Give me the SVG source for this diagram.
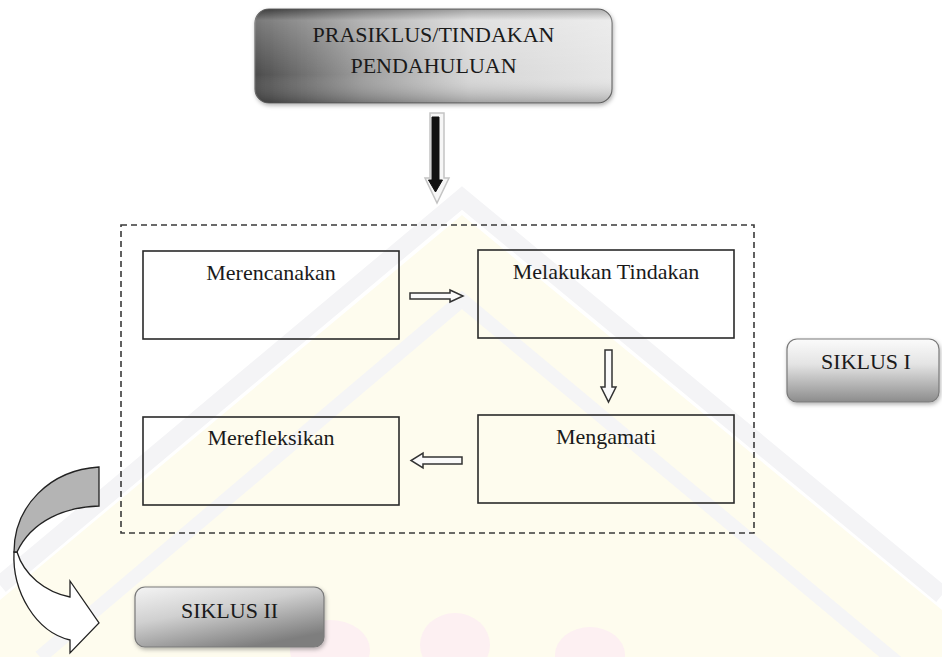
<svg xmlns="http://www.w3.org/2000/svg" width="942" height="657" viewBox="0 0 942 657">
<defs>
<style>
.t{font-family:"Liberation Serif","Times New Roman","DejaVu Serif",serif;font-size:22px;fill:#1a1a1a;text-anchor:middle}
.box{fill:none;stroke:#2a2a2a;stroke-width:1.6}
.ha{fill:#fafafa;stroke:#333;stroke-width:1.5;stroke-linejoin:miter}
</style>
<linearGradient id="gTop" x1="0" y1="0" x2="1" y2="0">
<stop offset="0" stop-color="#4c4c4c"/>
<stop offset="0.3" stop-color="#9c9c9c"/>
<stop offset="0.6" stop-color="#d6d6d6"/>
<stop offset="1" stop-color="#e6e6e6"/>
</linearGradient>
<linearGradient id="gTopV" x1="0" y1="0" x2="0" y2="1">
<stop offset="0" stop-color="#000" stop-opacity="0.25"/>
<stop offset="0.12" stop-color="#fff" stop-opacity="0.25"/>
<stop offset="0.7" stop-color="#fff" stop-opacity="0"/>
<stop offset="1" stop-color="#000" stop-opacity="0.25"/>
</linearGradient>
<linearGradient id="gS1" x1="0" y1="0" x2="0" y2="1">
<stop offset="0" stop-color="#fbfbfb"/>
<stop offset="0.4" stop-color="#e4e4e4"/>
<stop offset="1" stop-color="#8c8c8c"/>
</linearGradient>
<linearGradient id="gS2" x1="0" y1="0" x2="0.6" y2="1">
<stop offset="0" stop-color="#f4f4f4"/>
<stop offset="0.45" stop-color="#d0d0d0"/>
<stop offset="1" stop-color="#7e7e7e"/>
</linearGradient>
<filter id="sh" x="-10%" y="-10%" width="120%" height="130%">
<feDropShadow dx="1" dy="2" stdDeviation="2" flood-color="#000" flood-opacity="0.3"/>
</filter>
</defs>
<rect width="942" height="657" fill="#ffffff"/>
<g id="watermark">
<polygon points="0,600 462,215 942,610 942,657 0,657" fill="#fefcee"/>
<polyline points="0,585 462,198 942,595" fill="none" stroke="#f4f4f6" stroke-width="18"/>
<polyline points="40,657 462,300 942,700" fill="none" stroke="#f5f5f6" stroke-width="14"/>
<ellipse cx="330" cy="650" rx="40" ry="30" fill="#fdf0f2"/>
<ellipse cx="455" cy="645" rx="35" ry="32" fill="#fdf0f2"/>
<ellipse cx="590" cy="655" rx="35" ry="28" fill="#fdf0f2"/>
</g>
<g id="connectors">
<polygon points="430,113 444,113 444,178 449,178 437,203 425,178 430,178" fill="#f6f6f6" stroke="#c4c4c4" stroke-width="1.5"/>
<polygon points="432,117 439,117 439,180 442.5,180 435.5,192 428.5,180 432,180" fill="#111" stroke="#111" stroke-width="1"/>
<polygon class="ha" points="410,293 450,293 450,290 463,296 450,302 450,299 410,299"/>
<polygon class="ha" points="605,350 612,350 612,387 616,387 608.5,402 601,387 605,387"/>
<polygon class="ha" points="462,457 423,457 423,453 411,460.5 423,468 423,464 462,464"/>
<g id="curved-arrow" stroke="#222" stroke-width="1.3" stroke-linejoin="miter">
<path d="M14,552 C12,592 36,632 70,640 L70,653 L99,623 L70,581 L70,597 C45,592 24,575 17,552 Z" fill="#ffffff"/>
<path d="M99,467 L99,506 C66,507 32,520 17,552 L14,552 C14,506 50,470 99,467 Z" fill="#b4b4b4"/>
</g>
</g>
<g id="group-siklus">
<rect x="121" y="225" width="633" height="308" fill="none" stroke="#3a3a3a" stroke-width="1.6" stroke-dasharray="6,4"/>
</g>
<g id="prasiklus">
<rect x="255" y="9" width="357" height="94" rx="14" fill="url(#gTop)" stroke="#6a6a6a" stroke-width="1.2" filter="url(#sh)"/>
<rect x="255" y="9" width="357" height="94" rx="14" fill="url(#gTopV)"/>
<text class="t" x="433.5" y="42">PRASIKLUS/TINDAKAN</text>
<text class="t" x="433.5" y="73">PENDAHULUAN</text>
</g>
<g id="merencanakan">
<rect class="box" x="143" y="251" width="256" height="88"/>
<text class="t" x="271" y="280">Merencanakan</text>
</g>
<g id="melakukan">
<rect class="box" x="478" y="250" width="256" height="88"/>
<text class="t" x="606" y="279">Melakukan Tindakan</text>
</g>
<g id="mengamati">
<rect class="box" x="478" y="415" width="256" height="88"/>
<text class="t" x="606" y="444">Mengamati</text>
</g>
<g id="merefleksikan">
<rect class="box" x="143" y="417" width="256" height="88"/>
<text class="t" x="271" y="445">Merefleksikan</text>
</g>
<g id="siklus1">
<rect x="787" y="339" width="152" height="63" rx="10" fill="url(#gS1)" stroke="#7a7a7a" stroke-width="1.2" filter="url(#sh)"/>
<text class="t" x="866" y="369">SIKLUS I</text>
</g>
<g id="siklus2">
<rect x="135" y="587" width="189" height="60" rx="10" fill="url(#gS2)" stroke="#7a7a7a" stroke-width="1.2" filter="url(#sh)"/>
<text class="t" x="229.5" y="618">SIKLUS II</text>
</g>
</svg>
